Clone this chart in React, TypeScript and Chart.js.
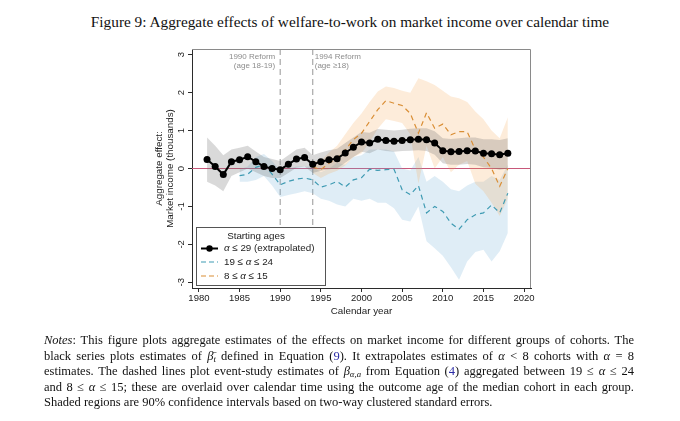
import React, { useEffect, useRef } from "react";
import { Chart, registerables } from "chart.js";

Chart.register(...registerables);

// ---------------- data ----------------
const figureTitle =
  "Figure 9: Aggregate effects of welfare-to-work on market income over calendar time";

const xTicks = [1980, 1985, 1990, 1995, 2000, 2005, 2010, 2015, 2020];
const yTicks = [-3, -2, -1, 0, 1, 2, 3];
const xTitle = "Calendar year";
const yTitle = ["Aggregate effect:", "Market income (thousands)"];

const legendTitle = "Starting ages";
const legendLabels = ["α ≤ 29 (extrapolated)", "19 ≤ α ≤ 24", "8 ≤ α ≤ 15"];

const reformYears = [1990, 1994];
const reformLabels = [
  ["1990 Reform", "(age 18-19)"],
  ["1994 Reform", "(age ≥18)"],
];
const zeroLineValue = 0;

// alpha <= 29 (extrapolated), black series
const blackYears = [
  1981, 1982, 1983, 1984, 1985, 1986, 1987, 1988, 1989, 1990,
  1991, 1992, 1993, 1994, 1995, 1996, 1997, 1998, 1999, 2000,
  2001, 2002, 2003, 2004, 2005, 2006, 2007, 2008, 2009, 2010,
  2011, 2012, 2013, 2014, 2015, 2016, 2017, 2018,
];
const blackValues = [
  0.24, 0.05, -0.16, 0.18, 0.23, 0.31, 0.18, 0.05, 0.0, -0.03,
  0.11, 0.25, 0.29, 0.11, 0.18, 0.23, 0.26, 0.41, 0.56, 0.7,
  0.67, 0.77, 0.74, 0.72, 0.74, 0.76, 0.77, 0.76, 0.67, 0.47,
  0.44, 0.45, 0.47, 0.46, 0.4, 0.39, 0.36, 0.4,
];
const blackUpper = [
  0.82, 0.6, 0.35, 0.5, 0.55, 0.6, 0.45, 0.3, 0.25, 0.2,
  0.35, 0.5, 0.55, 0.35, 0.42, 0.48, 0.52, 0.67, 0.82, 0.96,
  0.94, 1.04, 1.02, 1.0, 1.02, 1.05, 1.06, 1.06, 0.98, 0.8,
  0.78, 0.8, 0.82, 0.82, 0.77, 0.77, 0.75, 0.8,
];
const blackLower = [
  -0.35, -0.45, -0.6, -0.2, -0.1, 0.0, -0.1, -0.2, -0.25, -0.25,
  -0.12, 0.02, 0.05, -0.12, -0.06, -0.02, 0.0, 0.15, 0.3, 0.44,
  0.4, 0.5, 0.46, 0.44, 0.46, 0.47, 0.48, 0.46, 0.36, 0.14,
  0.1, 0.1, 0.12, 0.1, 0.03, 0.01, -0.03, 0.0,
];

// 19 <= alpha <= 24, blue dashed series
const blueYears = [
  1985, 1986, 1987, 1988, 1989, 1990, 1991, 1992, 1993, 1994,
  1995, 1996, 1997, 1998, 1999, 2000, 2001, 2002, 2003, 2004,
  2005, 2006, 2007, 2008, 2009, 2010, 2011, 2012, 2013, 2014,
  2015, 2016, 2017, 2018,
];
const blueValues = [
  -0.19, -0.15, 0.03, 0.1, -0.15, -0.43, -0.34, -0.28, -0.25, -0.3,
  -0.49, -0.43, -0.34, -0.49, -0.3, -0.24, -0.02, -0.05, -0.03, -0.02,
  -0.56, -0.69, -0.45, -1.17, -1.0, -1.13, -1.44, -1.6, -1.35, -1.22,
  -1.17, -0.96, -1.17, -0.65,
];
const blueUpper = [
  -0.02, 0.05, 0.3, 0.38, 0.2, -0.05, 0.0, 0.05, 0.05, 0.05,
  -0.1, 0.0, 0.15, 0.1, 0.3, 0.35, 0.5, 0.5, 0.5, 0.45,
  0.0, -0.05, 0.3, -0.35, -0.2, -0.35, -0.55, -0.6, -0.45, -0.35,
  -0.35, -0.2, -0.3, 0.1,
];
const blueLower = [
  -0.35, -0.35, -0.3, -0.2, -0.45, -0.75, -0.7, -0.65, -0.6, -0.65,
  -0.8, -0.85, -0.95, -1.0, -0.8, -0.85, -0.8, -0.9, -0.9, -1.05,
  -1.35, -1.4, -1.0, -1.92, -2.1, -2.3, -2.6, -2.93, -2.45, -2.2,
  -2.14, -2.45, -2.18, -1.7,
];

// 8 <= alpha <= 15, orange dashed series
const orangeYears = [
  1994, 1995, 1996, 1997, 1998, 1999, 2000, 2001, 2002, 2003,
  2004, 2005, 2006, 2007, 2008, 2009, 2010, 2011, 2012, 2013,
  2014, 2015, 2016, 2017, 2018,
];
const orangeValues = [
  0.04, -0.03, 0.14, 0.27, 0.49, 0.76, 0.93, 1.24, 1.55, 1.79,
  1.72, 1.66, 1.45, 0.93, 1.47, 1.06, 1.17, 0.89, 0.97, 0.97,
  0.5, 0.3, 0.0, -0.47, 0.0,
];
const orangeUpper = [
  0.2, 0.2, 0.42, 0.6, 0.9, 1.2, 1.45, 1.75, 2.03, 2.16,
  2.12, 2.05, 2.0, 2.38, 2.3, 2.2, 2.05, 1.9, 1.85, 1.75,
  1.5, 1.3, 1.0, 0.8, 1.35,
];
const orangeLower = [
  -0.12, -0.25, -0.14, -0.06, 0.08, 0.3, 0.4, 0.7, 1.05, 1.3,
  1.25, 1.2, 0.9, -0.4, 0.6, 0.0, 0.3, -0.1, 0.1, 0.2,
  -0.4, -0.6, -0.9, -1.25, -0.8,
];

// ---------------- styles ----------------
const SANS = '"Liberation Sans", Arial, Helvetica, sans-serif';
const SERIF = '"Liberation Serif", "Times New Roman", serif';
const BLUE = "#3f9bb3";
const ORANGE = "#d98e35";
const GRAY_BAND = "rgba(110,110,110,0.26)";
const BLUE_BAND = "rgba(110,175,215,0.22)";
const ORANGE_BAND = "rgba(245,160,70,0.2)";
const ZERO_COLOR = "#c8587a";
const AXIS_COLOR = "#2b2b2b";

const pts = (xs: number[], ys: number[]) => xs.map((x, i) => ({ x, y: ys[i] }));

function drawRich(ctx: CanvasRenderingContext2D, text: string, x: number, y: number, size: number) {
  let cx = x;
  for (const ch of Array.from(text)) {
    ctx.font = (ch === "α" ? "italic " : "") + `${size}px ${SANS}`;
    ctx.fillText(ch, cx, y);
    cx += ctx.measureText(ch).width;
  }
}

const decorPlugin = {
  id: "decor",
  beforeDatasetsDraw(chart: any) {
    const { ctx, chartArea: a, scales } = chart;
    ctx.save();
    const y0 = scales.y.getPixelForValue(zeroLineValue);
    ctx.strokeStyle = ZERO_COLOR;
    ctx.lineWidth = 1.2;
    ctx.beginPath();
    ctx.moveTo(a.left, y0);
    ctx.lineTo(a.right, y0);
    ctx.stroke();
    ctx.strokeStyle = "#a8a8a8";
    ctx.lineWidth = 1.2;
    ctx.setLineDash([6, 4]);
    for (const yr of reformYears) {
      const x = scales.x.getPixelForValue(yr);
      ctx.beginPath();
      ctx.moveTo(x, a.top);
      ctx.lineTo(x, a.bottom);
      ctx.stroke();
    }
    ctx.restore();
  },
  afterDatasetsDraw(chart: any) {
    const { ctx, chartArea: a, scales } = chart;
    ctx.save();
    ctx.strokeStyle = "#8a8a8a";
    ctx.lineWidth = 1;
    ctx.beginPath();
    ctx.moveTo(a.left, a.top + 0.5);
    ctx.lineTo(a.right - 0.5, a.top + 0.5);
    ctx.lineTo(a.right - 0.5, a.bottom);
    ctx.stroke();

    ctx.fillStyle = "#8c8c8c";
    ctx.font = `8px ${SANS}`;
    ctx.textBaseline = "middle";
    reformYears.forEach((yr, i) => {
      const x = scales.x.getPixelForValue(yr);
      const left = i === 0;
      ctx.textAlign = left ? "right" : "left";
      const tx = left ? x - 5 : x + 2;
      reformLabels[i].forEach((line, j) => ctx.fillText(line, tx, a.top + 7.5 + j * 9));
    });

    const bx = a.left + 4;
    const by = a.bottom - 61;
    const bw = 129;
    const bh = 58;
    ctx.fillStyle = "#fff";
    ctx.fillRect(bx, by, bw, bh);
    ctx.strokeStyle = "#555";
    ctx.lineWidth = 1;
    ctx.strokeRect(bx + 0.5, by + 0.5, bw, bh);

    ctx.fillStyle = "#222";
    ctx.font = `9.8px ${SANS}`;
    ctx.textAlign = "center";
    ctx.textBaseline = "middle";
    ctx.fillText(legendTitle, bx + 60, by + 9.5);

    const rowsY = [by + 21.5, by + 35, by + 49];
    const colors = ["#000", BLUE, ORANGE];
    rowsY.forEach((ry, i) => {
      ctx.strokeStyle = colors[i];
      ctx.lineWidth = i === 0 ? 2 : 1.2;
      ctx.setLineDash(i === 0 ? [] : [5, 3]);
      ctx.beginPath();
      ctx.moveTo(bx + 5, ry);
      ctx.lineTo(bx + 22, ry);
      ctx.stroke();
      ctx.setLineDash([]);
      if (i === 0) {
        ctx.fillStyle = "#000";
        ctx.beginPath();
        ctx.arc(bx + 13.5, ry, 3.2, 0, Math.PI * 2);
        ctx.fill();
      }
      ctx.fillStyle = "#222";
      ctx.textAlign = "left";
      drawRich(ctx, legendLabels[i], bx + 28, ry, 9.8);
    });
    ctx.restore();
  },
};

function ChartBox() {
  const ref = useRef<HTMLCanvasElement>(null);
  useEffect(() => {
    const canvas = ref.current;
    if (!canvas) return;
    const noPoint = { pointRadius: 0, pointHoverRadius: 0 };
    const chart = new Chart(canvas, {
      type: "line",
      data: {
        datasets: [
          {
            label: legendLabels[0],
            data: pts(blackYears, blackValues),
            borderColor: "#000",
            backgroundColor: "#000",
            borderWidth: 2,
            pointRadius: 3.5,
            pointBorderWidth: 0,
            pointBackgroundColor: "#000",
            fill: false,
            order: 0,
          },
          {
            label: legendLabels[1],
            data: pts(blueYears, blueValues),
            borderColor: BLUE,
            borderWidth: 1.2,
            borderDash: [5, 4],
            fill: false,
            order: 1,
            ...noPoint,
          },
          {
            label: legendLabels[2],
            data: pts(orangeYears, orangeValues),
            borderColor: ORANGE,
            borderWidth: 1.2,
            borderDash: [5, 4],
            fill: false,
            order: 2,
            ...noPoint,
          },
          {
            label: "ci-black-upper",
            data: pts(blackYears, blackUpper),
            borderColor: "transparent",
            backgroundColor: GRAY_BAND,
            fill: "+1",
            order: 3,
            ...noPoint,
          },
          {
            label: "ci-black-lower",
            data: pts(blackYears, blackLower),
            borderColor: "transparent",
            fill: false,
            order: 3,
            ...noPoint,
          },
          {
            label: "ci-orange-upper",
            data: pts(orangeYears, orangeUpper),
            borderColor: "transparent",
            backgroundColor: ORANGE_BAND,
            fill: "+1",
            order: 4,
            ...noPoint,
          },
          {
            label: "ci-orange-lower",
            data: pts(orangeYears, orangeLower),
            borderColor: "transparent",
            fill: false,
            order: 4,
            ...noPoint,
          },
          {
            label: "ci-blue-upper",
            data: pts(blueYears, blueUpper),
            borderColor: "transparent",
            backgroundColor: BLUE_BAND,
            fill: "+1",
            order: 5,
            ...noPoint,
          },
          {
            label: "ci-blue-lower",
            data: pts(blueYears, blueLower),
            borderColor: "transparent",
            fill: false,
            order: 5,
            ...noPoint,
          },
        ],
      },
      options: {
        animation: false,
        responsive: false,
        maintainAspectRatio: false,
        devicePixelRatio: 1,
        events: [],
        layout: { padding: { left: 150, top: 49, right: 149, bottom: 103 } },
        plugins: { legend: { display: false }, tooltip: { enabled: false } },
        scales: {
          x: {
            type: "linear",
            min: 1979.15,
            max: 2020.85,
            afterBuildTicks: (axis: any) => {
              axis.ticks = xTicks.map((v) => ({ value: v }));
            },
            afterFit: (s: any) => {
              s.height = 30;
            },
            ticks: {
              autoSkip: false,
              maxRotation: 0,
              padding: 1,
              color: "#222",
              font: { family: SANS, size: 9.5 },
              callback: (v: any) => String(v),
            },
            grid: { drawOnChartArea: false, drawTicks: true, tickLength: 4, color: AXIS_COLOR },
            border: { display: true, color: AXIS_COLOR, width: 1 },
            title: {
              display: true,
              text: xTitle,
              color: "#222",
              font: { family: SANS, size: 9.8 },
              padding: { top: 0, bottom: 1 },
            },
          },
          y: {
            type: "linear",
            min: -3.15,
            max: 3.15,
            afterBuildTicks: (axis: any) => {
              axis.ticks = yTicks.map((v) => ({ value: v }));
            },
            afterFit: (s: any) => {
              s.width = 42;
            },
            ticks: {
              minRotation: 90,
              maxRotation: 90,
              crossAlign: "center",
              padding: 2,
              color: "#222",
              font: { family: SANS, size: 9.5 },
              callback: (v: any) => String(v),
            },
            grid: { drawOnChartArea: false, drawTicks: true, tickLength: 4, color: AXIS_COLOR },
            border: { display: true, color: AXIS_COLOR, width: 1 },
            title: {
              display: true,
              text: yTitle,
              color: "#222",
              font: { family: SANS, size: 9.8, lineHeight: 1.2 },
              padding: { top: 3, bottom: 0 },
            },
          },
        },
      },
      plugins: [decorPlugin],
    } as any);
    return () => chart.destroy();
  }, []);
  return (
    <canvas
      ref={ref}
      width={680}
      height={421}
      style={{ position: "absolute", left: 0, top: 0, width: 680, height: 421 }}
    />
  );
}

const LINK = "#2b2ba6";
const noteStyle = (top: number, justify: boolean): React.CSSProperties => ({
  position: "absolute",
  left: 44,
  width: 590,
  top,
  fontFamily: SERIF,
  fontSize: 12.5,
  lineHeight: "15px",
  whiteSpace: "nowrap",
  textAlign: justify ? "justify" : "left",
  textAlignLast: justify ? "justify" : "left",
  color: "#111",
});
const sub: React.CSSProperties = { fontSize: "0.7em", verticalAlign: "-0.25em", lineHeight: 0 };

export default function App() {
  return (
    <div
      style={{
        position: "fixed",
        left: 0,
        top: 0,
        width: 680,
        height: 421,
        background: "#fff",
        overflow: "hidden",
      }}
    >
      <div
        style={{
          position: "absolute",
          left: 0,
          width: 700,
          top: 12,
          textAlign: "center",
          fontFamily: SERIF,
          fontSize: 15.3,
          lineHeight: "19px",
          color: "#111",
          whiteSpace: "nowrap",
        }}
      >
        {figureTitle}
      </div>
      <ChartBox />
      <div style={noteStyle(333, true)}>
        <i>Notes</i>: This figure plots aggregate estimates of the effects on market income for different groups of cohorts. The
      </div>
      <div style={noteStyle(348.5, true)}>
        black series plots estimates of <i>β̄</i>
        <span style={sub}><i>t</i></span> defined in Equation (<span style={{ color: LINK }}>9</span>). It extrapolates estimates of <i>α</i> &lt; 8 cohorts with <i>α</i> = 8
      </div>
      <div style={noteStyle(364, true)}>
        estimates. The dashed lines plot event-study estimates of <i>β</i>
        <span style={sub}><i>α,a</i></span> from Equation (<span style={{ color: LINK }}>4</span>) aggregated between 19 ≤ <i>α</i> ≤ 24
      </div>
      <div style={noteStyle(379.5, true)}>
        and 8 ≤ <i>α</i> ≤ 15; these are overlaid over calendar time using the outcome age of the median cohort in each group.
      </div>
      <div style={noteStyle(395, false)}>
        Shaded regions are 90% confidence intervals based on two-way clustered standard errors.
      </div>
    </div>
  );
}
